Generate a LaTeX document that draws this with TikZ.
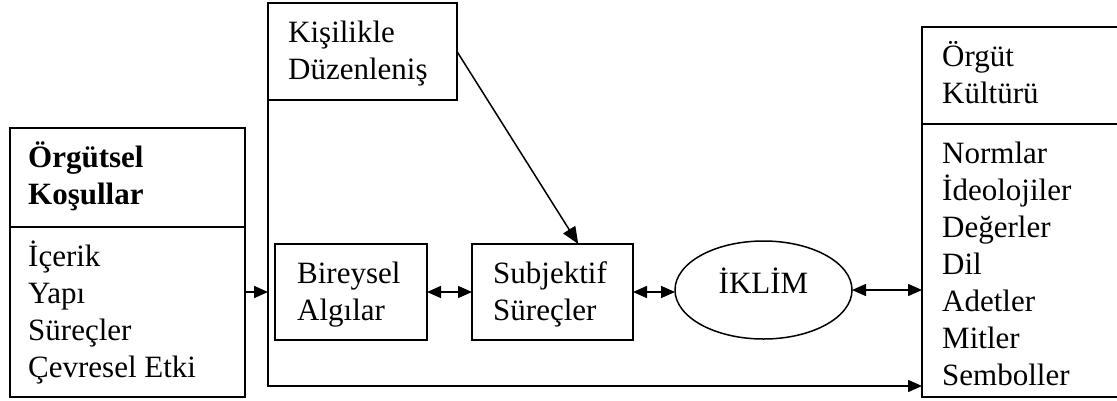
\documentclass[tikz,border=0pt]{standalone}
\usepackage{fontspec}
\setmainfont{Liberation Serif}
\usetikzlibrary{arrows.meta,shapes.geometric,calc}
\begin{document}
\begin{tikzpicture}[x=1pt,y=-1pt,
  box/.style={draw, line width=1.5pt, rectangle, inner sep=0pt, outer sep=0pt},
  oval/.style={draw, line width=1.5pt, ellipse, inner sep=0pt, outer sep=0pt},
  txt/.style={anchor=base west, inner sep=0pt, font=\fontsize{31}{37}\selectfont},
  conn/.style={line width=1.5pt},
  tipone/.style={conn, -{Triangle[length=14pt,width=12pt]}},
  tiptwo/.style={conn, {Triangle[length=14pt,width=12pt]}-{Triangle[length=14pt,width=12pt]}},
  tipbig/.style={conn, -{Triangle[length=17pt,width=14pt]}}
]
\useasboundingbox (0,0) rectangle (1117,400);

% boxes
\node[box, minimum width=235pt, minimum height=269pt] (L) at (127.5,262.5) {};
\node[box, minimum width=189pt, minimum height=97pt] (K) at (362.5,51.5) {};
\node[box, minimum width=152pt, minimum height=96pt] (B) at (351,292) {};
\node[box, minimum width=161pt, minimum height=96pt] (S) at (552.5,292) {};
\node[oval, minimum width=177pt, minimum height=98pt] (E) at (763.5,290) {};
\node[box, minimum width=203pt, minimum height=370pt] (R) at (1023.5,212) {};

% dividers
\coordinate (Ld) at (0,227);
\coordinate (Rd) at (0,124);
\draw[conn] (L.west |- Ld) -- (L.east |- Ld);
\draw[conn] (R.west |- Rd) -- (R.east |- Rd);

% texts
\node[txt, font=\fontsize{31}{37}\selectfont\bfseries] (l1) at (28,167) {Örgütsel};
\node[txt, font=\fontsize{31}{37}\selectfont\bfseries] (l2) at (28,204) {Koşullar};
\node[txt] (l3) at (28,266) {İçerik};
\node[txt] (l4) at (28,303) {Yapı};
\node[txt] (l5) at (28,340) {Süreçler};
\node[txt] (l6) at (28,377) {Çevresel Etki};

\node[txt] (k1) at (288,42) {Kişilikle};
\node[txt] (k2) at (288,79) {Düzenleniş};

\node[txt] (b1) at (297,283) {Bireysel};
\node[txt] (b2) at (297,320) {Algılar};

\node[txt] (s1) at (493,283) {Subjektif};
\node[txt] (s2) at (493,320) {Süreçler};

\node[txt, anchor=base] (e1) at (763.5,293) {İKLİM};

\node[txt] (r1) at (942,66) {Örgüt};
\node[txt] (r2) at (942,103) {Kültürü};
\node[txt] (r3) at (942,163) {Normlar};
\node[txt] (r4) at (942,200) {İdeolojiler};
\node[txt] (r5) at (942,237) {Değerler};
\node[txt] (r6) at (942,274) {Dil};
\node[txt] (r7) at (942,311) {Adetler};
\node[txt] (r8) at (942,348) {Mitler};
\node[txt] (r9) at (942,385) {Semboller};

% connectors
\coordinate (corner) at (268,386);
\draw[tipone] (K.south west) -- (corner) -- (corner -| R.west);
\draw[tipone] (L.east |- B.west) -- (B.west -| K.south west);
\draw[tiptwo] (B.east) -- (S.west);
\draw[tiptwo] (S.east) -- (S.east -| E.west);
\draw[tiptwo] (E.east) -- (E.east -| R.west);
\coordinate (stip) at ($(S.north west)!0.66!(S.north east)$);
\draw[tipbig] (K.east) -- (stip);
\end{tikzpicture}
\end{document}
